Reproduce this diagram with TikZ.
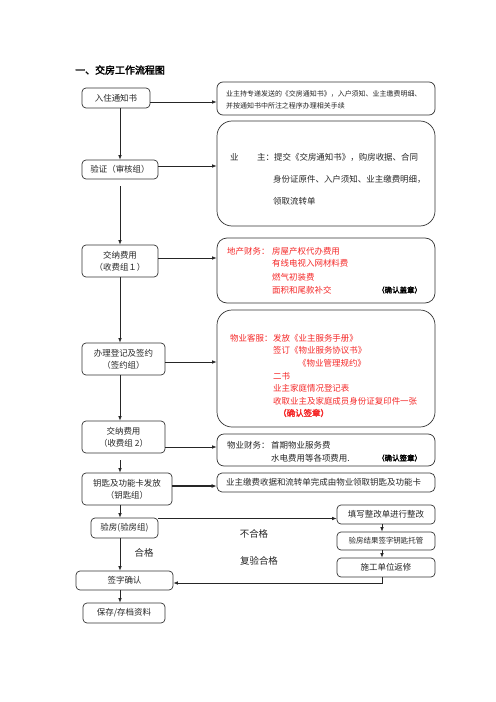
\documentclass[tikz,border=0pt]{standalone}
\usepackage{fontspec}
\newfontfamily\cjk[AutoFakeBold=2.5]{Noto Sans CJK SC}
\newcommand{\myfs}[1]{\fontsize{#1}{#1}\selectfont}
\usetikzlibrary{arrows.meta}
\definecolor{tred}{RGB}{245,40,40}
\begin{document}
\begin{tikzpicture}[x=1bp,y=-1bp,
  lbox/.style={draw=black!80, rounded corners=4bp, line width=0.7bp, inner sep=0pt, align=center, text=black!85, font=\cjk\fontsize{8.5}{12}\selectfont},
  rbox/.style={draw=black!80, line width=0.7bp, inner sep=0pt},
  arr/.style={draw=black!85, line width=0.7bp, -{Latex[length=4.5bp,width=3.5bp]}},
  rt/.style={anchor=west, inner sep=0pt, text=black!85, font=\cjk\myfs{8.5}},
  rs/.style={anchor=west, inner sep=0pt, text=black!85, font=\cjk\myfs{7}},
  rr/.style={anchor=west, inner sep=0pt, text=tred, font=\cjk\myfs{8.5}},
  stamp/.style={anchor=west, inner sep=0pt, font=\cjk\bfseries\myfs{7.5}},
  lab/.style={inner sep=0pt, text=black!85, font=\cjk\myfs{9.5}}
]
\useasboundingbox[fill=white] (0,0) rectangle (496,702);

% title
\node[anchor=west, inner sep=0pt, font=\cjk\bfseries\myfs{10}] (title) at (75,70) {一、交房工作流程图};

% left column
\node[lbox, minimum width=68bp, minimum height=20bp] (notice) at (116,98) {入住通知书};
\node[lbox, minimum width=76bp, minimum height=19bp] (check) at (120,169.5) {验证（审核组）};
\node[lbox, minimum width=76bp, minimum height=32bp] (fee1) at (120,261) {交纳费用\\（收费组１）};
\node[lbox, minimum width=83bp, minimum height=32bp] (sign) at (123.5,359) {办理登记及签约\\（签约组）};
\node[lbox, minimum width=83bp, minimum height=32bp] (fee2) at (123.5,437) {交纳费用\\（收费组 2）};
\node[lbox, minimum width=90bp, minimum height=32bp] (key) at (127,489) {钥匙及功能卡发放\\（钥匙组）};
\node[lbox, minimum width=67bp, minimum height=20bp] (inspect) at (124.5,528) {验房(验房组)};
\node[lbox, minimum width=97bp, minimum height=19bp] (confirm) at (124.5,580.5) {签字确认};
\node[lbox, minimum width=82bp, minimum height=20bp] (archive) at (124,613) {保存/存档资料};

% right boxes
\node[rbox, rounded corners=6bp, minimum width=218bp, minimum height=33bp] (r1) at (326,98.5) {};
\node[rbox, rounded corners=15bp, minimum width=218bp, minimum height=105bp] (r2) at (326,173.5) {};
\node[rbox, rounded corners=10bp, minimum width=218bp, minimum height=65bp] (r3) at (326,270.5) {};
\node[rbox, rounded corners=15bp, minimum width=218bp, minimum height=117bp] (r4) at (326,368.5) {};
\node[rbox, rounded corners=7bp, minimum width=218bp, minimum height=32bp] (r5) at (326,450) {};
\node[rbox, rounded corners=5bp, minimum width=218bp, minimum height=19bp] (r6) at (326,482.5) {};
\node[lbox, minimum width=98bp, minimum height=19bp] (fix1) at (386,514.5) {填写整改单进行整改};
\node[lbox, minimum width=98bp, minimum height=18bp, font=\cjk\myfs{7.5}] (fix2) at (386,541) {验房结果签字钥匙托管};
\node[lbox, minimum width=98bp, minimum height=19bp] (fix3) at (386,567.5) {施工单位返修};

% texts in right boxes
\node[rs] (t1a) at (226,93.5) {业主持专递发送的《交房通知书》，入户须知、业主缴费明细、};
\node[rs] (t1b) at (226,106) {并按通知书中所注之程序办理相关手续};

\node[rt] (t2a) at (230,157) {业};
\node[rt] (t2b) at (257,157) {主：提交《交房通知书》，购房收据、合同};
\node[rt] (t2c) at (273,179) {身份证原件、入户须知、业主缴费明细，};
\node[rt] (t2d) at (273,201) {领取流转单};

\node[rr] (t3a) at (227,251) {地产财务：};
\node[rr] (t3b) at (272,251) {房屋产权代办费用};
\node[rr] (t3c) at (272,263.5) {有线电视入网材料费};
\node[rr] (t3d) at (272,277) {燃气初装费};
\node[rr] (t3e) at (272,290) {面积和尾款补交};
\node[stamp, text=black] (t3f) at (377,290) {（确认盖章）};

\node[rr] (t4a) at (230,338) {物业客服：};
\node[rr] (t4b) at (273,338) {发放《业主服务手册》};
\node[rr] (t4c) at (273,350.5) {签订《物业服务协议书》};
\node[rr] (t4d) at (298,363) {《物业管理规约》};
\node[rr] (t4e) at (273,376) {二书};
\node[rr] (t4f) at (273,388.5) {业主家庭情况登记表};
\node[rr] (t4g) at (273,401) {收取业主及家庭成员身份证复印件一张};
\node[stamp, text=tred, font=\cjk\bfseries\myfs{8.5}] (t4h) at (278,413) {（确认签章）};

\node[rt] (t5a) at (227,445) {物业财务：};
\node[rt] (t5b) at (271,445) {首期物业服务费};
\node[rt] (t5c) at (271,458) {水电费用等各项费用.};
\node[stamp, text=black] (t5d) at (377,458) {（确认签章）};

\node[rt] (t6a) at (226,482.5) {业主缴费收据和流转单完成由物业领取钥匙及功能卡};

% labels
\node[lab] (lno) at (254,534) {不合格};
\node[lab] (lre) at (259,561) {复验合格};
\node[lab] (lok) at (144,553) {合格};

% trunk coordinates
\coordinate (tx) at (120,0);
\coordinate (g1) at (0,186);
\coordinate (g2) at (0,460);
\coordinate (a1) at (0,102);
\coordinate (a2) at (0,166);
\coordinate (a3) at (0,258);
\coordinate (a4) at (0,362);
\coordinate (a5) at (0,447);
\coordinate (a6) at (0,486);
\coordinate (a7) at (0,518.5);
\coordinate (fx) at (382,0);
\coordinate (turn) at (382,583);

% vertical connectors
\draw[arr] (notice.south -| tx) -- (check.north -| tx);
\draw[arr] (g1 -| tx) -- (fee1.north -| tx);
\draw[arr] (fee1.south -| tx) -- (sign.north -| tx);
\draw[arr] (sign.south -| tx) -- (fee2.north -| tx);
\draw[arr] (g2 -| tx) -- (key.north -| tx);
\draw[arr] (key.south -| tx) -- (inspect.north -| tx);
\draw[arr] (inspect.south -| tx) -- (confirm.north -| tx);
\draw[arr] (confirm.south -| tx) -- (archive.north -| tx);

% horizontal connectors
\draw[arr] (notice.east |- a1) -- (r1.west |- a1);
\draw[arr] (check.east |- a2) -- (r2.west |- a2);
\draw[arr] (fee1.east |- a3) -- (r3.west |- a3);
\draw[arr] (sign.east |- a4) -- (r4.west |- a4);
\draw[arr] (fee2.east |- a5) -- (r5.west |- a5);
\draw[arr, line width=1.6bp, -{Latex[length=5bp,width=4bp]}] (key.east |- a6) -- (r6.west |- a6);
\draw[arr] (inspect.east |- a7) -- (fix1.west |- a7);

% repair loop
\draw[arr] (fix1.south -| fx) -- (fix2.north -| fx);
\draw[arr] (fix2.south -| fx) -- (fix3.north -| fx);
\draw[arr] (fix3.south -| fx) -- (turn) -- (confirm.east |- turn);
\end{tikzpicture}
\end{document}
